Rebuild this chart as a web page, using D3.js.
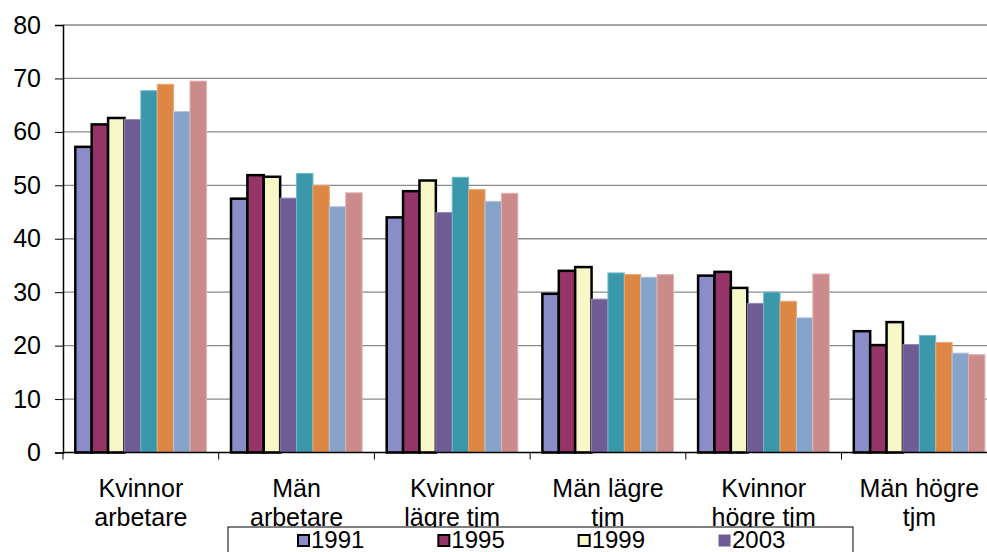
<!DOCTYPE html>
<html>
<head>
<meta charset="utf-8">
<script src="https://cdn.jsdelivr.net/npm/d3@7/dist/d3.min.js"></script>
<style>
  html, body { margin: 0; padding: 0; background: #fff; overflow: hidden; }
  svg { display: block; font-family: "Liberation Sans", Arial, sans-serif; }
</style>
</head>
<body>
<svg id="chart" width="987" height="552"></svg>
<script>
// Occupational groups (two-line axis labels)
const categories = ["Kvinnor arbetare", "Män arbetare", "Kvinnor lägre tjm", "Män lägre tjm", "Kvinnor högre tjm", "Män högre tjm"];
const categoryLines = [["Kvinnor", "arbetare"], ["Män", "arbetare"], ["Kvinnor", "lägre tjm"], ["Män lägre", "tjm"], ["Kvinnor", "högre tjm"], ["Män högre", "tjm"]];

// Survey years
const seriesNames = ["1991", "1995", "1999", "2003", "2005", "2007", "2009", "2011"];
const legendNames = ["1991", "1995", "1999", "2003"];

// Values per year, one per category
const v1991 = [57.2, 47.5, 44.0, 29.7, 33.1, 22.7];
const v1995 = [61.4, 51.9, 48.9, 34.0, 33.8, 20.1];
const v1999 = [62.6, 51.6, 50.9, 34.7, 30.8, 24.4];
const v2003 = [62.3, 47.6, 44.9, 28.7, 27.9, 20.2];
const v2005 = [67.7, 52.2, 51.5, 33.6, 30.0, 21.9];
const v2007 = [68.9, 50.0, 49.2, 33.3, 28.3, 20.6];
const v2009 = [63.8, 46.0, 47.0, 32.8, 25.2, 18.6];
const v2011 = [69.5, 48.6, 48.5, 33.3, 33.4, 18.3];
const seriesValues = [v1991, v1995, v1999, v2003, v2005, v2007, v2009, v2011];

const yTicks = [0, 10, 20, 30, 40, 50, 60, 70, 80];

const fills = ["#8A8DC7", "#953466", "#F8F7C8", "#705C95", "#3A98AA", "#DC8744", "#86A3C9", "#CB8B8B"];
const edges = ["#000", "#000", "#000", "#8f87b8", "#6cb8c6", "#eaa775", "#b3c6de", "#e2b0b0"];
const edgeWidths = [2.5, 2.5, 2.5, 1, 1, 1, 1, 1];

const svg = d3.select("#chart");
const x0 = 63, step = 155.7;
const yTop = 25, yBottom = 452.5;
const fontSize = 25;

const x = d3.scaleBand().domain(categories).range([x0, x0 + step * categories.length]).paddingInner(0).paddingOuter(0);
const xs = d3.scaleBand().domain(seriesNames).range([0, x.bandwidth()]).paddingInner(0).paddingOuter(0.75);
const y = d3.scaleLinear().domain([0, 80]).range([yBottom, yTop]);

// Horizontal gridlines
svg.append("g").selectAll("line").data(yTicks.filter(d => d > 0)).join("line")
  .attr("x1", x0).attr("x2", 987)
  .attr("y1", d => y(d)).attr("y2", d => y(d))
  .attr("stroke", "#8a8a8a").attr("stroke-width", 1.3);

// Bars
const groups = svg.append("g").selectAll("g").data(seriesNames).join("g");
groups.each(function(name, si) {
  d3.select(this).selectAll("rect").data(seriesValues[si]).join("rect")
    .attr("x", (d, ci) => x(categories[ci]) + xs(name))
    .attr("y", d => y(d))
    .attr("width", xs.bandwidth())
    .attr("height", d => y(0) - y(d))
    .attr("fill", fills[si])
    .attr("stroke", edges[si])
    .attr("stroke-width", edgeWidths[si]);
});

// Y axis
const yAxis = svg.append("g").attr("transform", `translate(${x0},0)`)
  .call(d3.axisLeft(y).tickValues(yTicks).tickSize(8).tickPadding(14).tickFormat(d3.format("d")));
yAxis.select(".domain").attr("stroke", "#000").attr("stroke-width", 1.5);
yAxis.selectAll(".tick line").attr("stroke", "#000");
yAxis.selectAll("text").attr("font-size", fontSize).attr("fill", "#000")
  .attr("font-family", "'Liberation Sans', Arial, sans-serif");

// X axis line and category separators
svg.append("line").attr("x1", x0).attr("x2", 987).attr("y1", y(0)).attr("y2", y(0))
  .attr("stroke", "#000").attr("stroke-width", 1.5);
svg.append("g").selectAll("line").data(categories).join("line")
  .attr("x1", d => x(d)).attr("x2", d => x(d))
  .attr("y1", y(0)).attr("y2", y(0) + 7)
  .attr("stroke", "#000").attr("stroke-width", 1);

// Category labels
const lbl = svg.append("g").selectAll("text").data(categories).join("text")
  .attr("text-anchor", "middle").attr("font-size", fontSize).attr("fill", "#000")
  .attr("transform", d => `translate(${x(d) + x.bandwidth() / 2},0)`);
lbl.each(function(d, i) {
  d3.select(this).selectAll("tspan").data(categoryLines[i]).join("tspan")
    .attr("x", 0).attr("y", (t, j) => 497 + j * 28.5).text(t => t);
});

// Legend (box runs past the bottom edge)
const legend = svg.append("g");
legend.append("rect").attr("x", 228).attr("y", 527).attr("width", 625).attr("height", 40)
  .attr("fill", "#fff").attr("stroke", "#000").attr("stroke-width", 1);
const legX = d3.scalePoint().domain(legendNames).range([298, 719]);
const items = legend.selectAll("g.item").data(legendNames).join("g").attr("class", "item")
  .attr("transform", d => `translate(${legX(d)},0)`);
items.append("rect").attr("x", 0).attr("y", 535).attr("width", 11).attr("height", 11)
  .attr("fill", (d, i) => fills[i])
  .attr("stroke", (d, i) => i < 3 ? "#000" : fills[i])
  .attr("stroke-width", (d, i) => i < 3 ? 2 : 1);
items.append("text").attr("x", 13).attr("y", 548).attr("font-size", 24).attr("fill", "#000")
  .text(d => d);
</script>
</body>
</html>
